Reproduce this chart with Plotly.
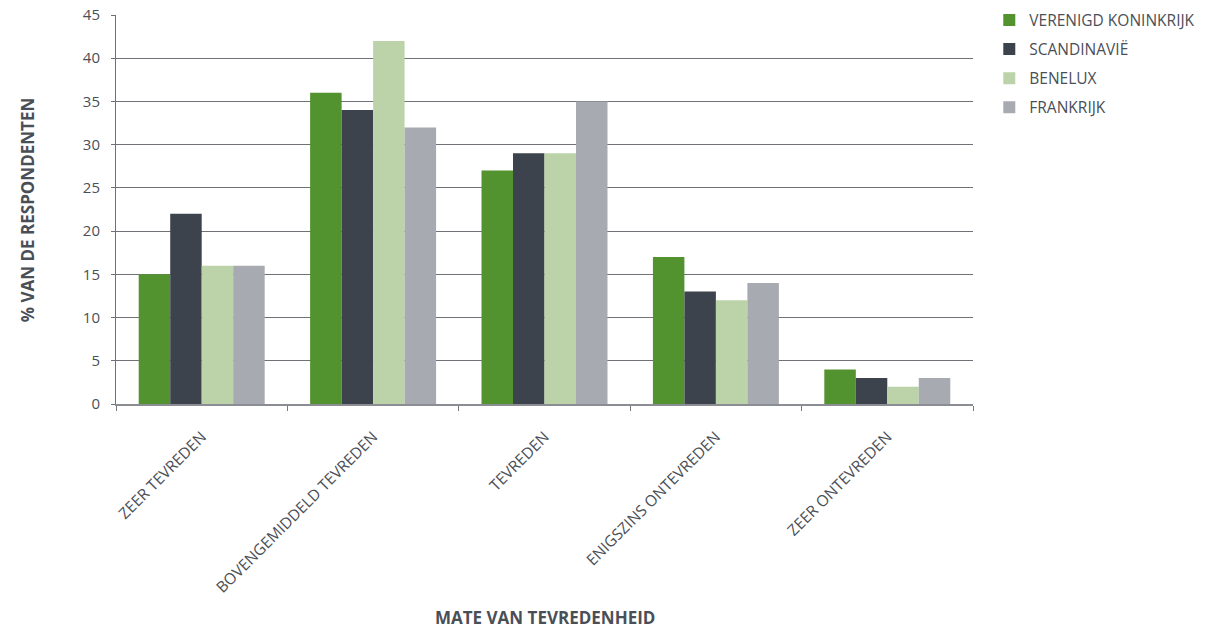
import plotly.graph_objects as go

categories = ["ZEER TEVREDEN", "BOVENGEMIDDELD TEVREDEN", "TEVREDEN",
              "ENIGSZINS ONTEVREDEN", "ZEER ONTEVREDEN"]
series_names = ["VERENIGD KONINKRIJK", "SCANDINAVIË", "BENELUX", "FRANKRIJK"]
verenigd_koninkrijk = [15, 36, 27, 17, 4]
scandinavie = [22, 34, 29, 13, 3]
benelux = [16, 42, 29, 12, 2]
frankrijk = [16, 32, 35, 14, 3]
colors = ["#53932f", "#3d434d", "#bcd3aa", "#a7aab1"]

values = [verenigd_koninkrijk, scandinavie, benelux, frankrijk]

fig = go.Figure()
for i, (name, vals, col) in enumerate(zip(series_names, values, colors)):
    fig.add_trace(go.Bar(x=categories, y=vals, name=name, marker_color=col,
                         marker_line_width=0, legendgroup=str(i)))

txt = "#4a4f57"
fig.update_layout(
    width=1221, height=629,
    margin=dict(l=116, r=248, t=15, b=225, autoexpand=False),
    plot_bgcolor="white", paper_bgcolor="white",
    barmode="group", bargap=0.265, bargroupgap=0,
    font=dict(family="Open Sans", size=13, color=txt),
    legend=dict(x=1.019, y=1.03, xanchor="left", yanchor="top",
                font=dict(size=15.5, color=txt), tracegroupgap=6,
                itemwidth=30),
    xaxis=dict(tickangle=-45, tickson="boundaries", ticks="outside",
               ticklen=5, tickcolor="#777a80", showline=True,
               linecolor="#8a8d92", linewidth=1.5, automargin=False,
               ticklabelstandoff=16,
               tickfont=dict(size=15.5, color=txt)),
    yaxis=dict(range=[0, 45], dtick=5, showgrid=True, gridcolor="#6e7176",
               gridwidth=1, ticks="outside", ticklen=4, tickcolor="#6e7176",
               showline=True, linecolor="#6e7176", zeroline=False,
               automargin=False, ticklabelstandoff=8,
               tickfont=dict(size=15, color=txt)),
    annotations=[
        dict(text="<b>% VAN DE RESPONDENTEN</b>", textangle=-90,
             xref="paper", yref="paper", x=-0.103, y=0.5,
             xanchor="center", yanchor="middle", showarrow=False,
             font=dict(size=17, color=txt)),
        dict(text="<b>MATE VAN TEVREDENHEID</b>",
             xref="paper", yref="paper", x=0.5, y=-0.55,
             xanchor="center", yanchor="middle", showarrow=False,
             font=dict(size=17, color=txt)),
    ],
)

fig.write_html("out.html")
